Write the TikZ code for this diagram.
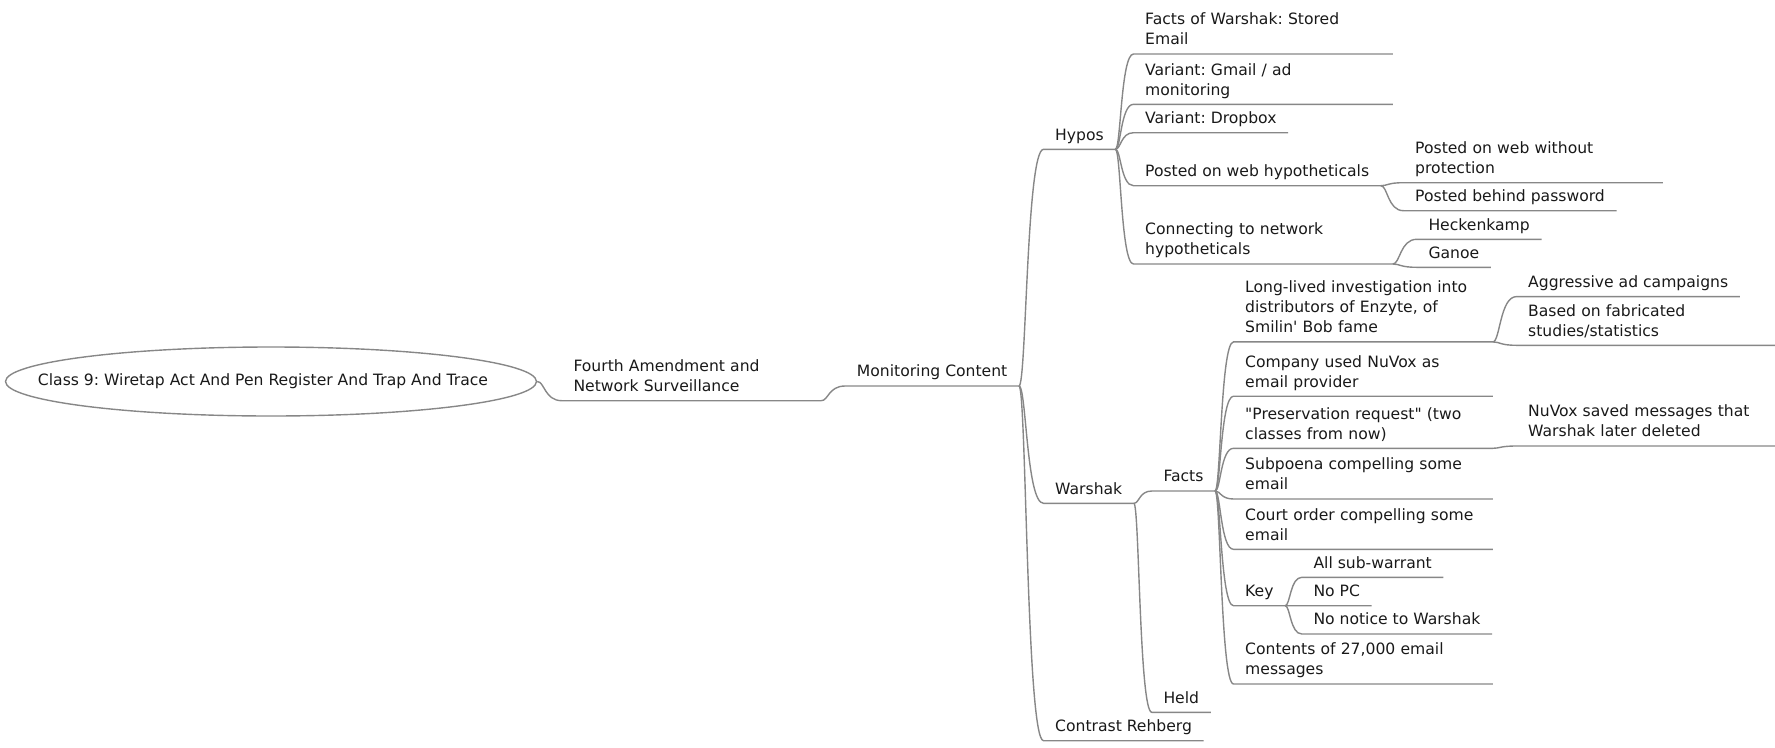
\documentclass[tikz,border=0pt]{standalone}
\usepackage{fontspec}
\setmainfont{DejaVu Sans}
\usetikzlibrary{calc, shapes.geometric}

\definecolor{linegray}{RGB}{135,135,135}
\definecolor{inkgray}{RGB}{25,25,25}

\tikzset{
  topic/.style = {anchor=south west, align=left, inner xsep=11.5pt, inner ysep=3pt,
                  text=inkgray, font=\fontsize{15.6}{20}\selectfont\frenchspacing, execute at end node=\strut},
  wrapped/.style = {topic, text width=236pt},
  link/.style = {linegray, line width=1.4pt},
  branch/.style = {to path={.. controls ($(\tikztostart)!.3!(\tikztostart -| \tikztotarget)$)
                   and ($(\tikztostart |- \tikztotarget)!.3!(\tikztotarget)$) .. (\tikztotarget)}}
}

\begin{document}
\begin{tikzpicture}[x=1pt, y=-1pt]
\useasboundingbox (0, 0) rectangle (1775, 747);

\node (root) at (271, 381.5) [draw=linegray, line width=1.4pt, ellipse, minimum width=531pt, minimum height=69pt, inner sep=0pt, text=inkgray, font=\fontsize{15.6}{20}\selectfont\frenchspacing] {\makebox[0pt]{\kern-16pt Class 9: Wiretap Act And Pen Register And Trap And Trace}};

\node (fourth) at (561.8, 400.7) [wrapped] {Fourth Amendment and\\Network Surveillance};
\node (monitor) at (845.2, 386) [topic] {Monitoring Content};

\node (hypos) at (1043.5, 149.3) [topic] {Hypos};
\node (warshak) at (1043.5, 503.3) [topic] {Warshak};
\node (rehberg) at (1043.5, 740.7) [topic] {Contrast Rehberg};

\node (factswar) at (1133.5, 54) [wrapped] {Facts of Warshak: Stored\\Email};
\node (gmail) at (1133.5, 104.3) [wrapped] {Variant: Gmail / ad\\monitoring};
\node (dropbox) at (1133.5, 132.7) [topic] {Variant: Dropbox};
\node (postweb) at (1133.5, 185.7) [topic] {Posted on web hypotheticals};
\node (noprot) at (1403.5, 182.7) [wrapped] {Posted on web without\\protection};
\node (password) at (1403.5, 210.7) [topic] {Posted behind password};
\node (connect) at (1133.5, 264) [wrapped] {Connecting to network\\hypotheticals};
\node (heck) at (1416.8, 239.3) [topic] {Heckenkamp};
\node (ganoe) at (1416.8, 267.3) [topic] {Ganoe};

\node (facts) at (1151.8, 491) [topic] {Facts};
\node (longlived) at (1233.5, 341.9) [wrapped] {Long-lived investigation into\\distributors of Enzyte, of\\Smilin\textquotesingle\ Bob fame};
\node (aggressive) at (1516.5, 296.6) [topic] {Aggressive ad campaigns};
\node (fabricated) at (1516.5, 345.3) [wrapped] {Based on fabricated\\studies/statistics};
\node (nuvox) at (1233.5, 396.2) [wrapped] {Company used NuVox as\\email provider};
\node (preserve) at (1233.5, 448.3) [wrapped] {\textquotedbl Preservation request\textquotedbl\ (two\\classes from now)};
\node (saved) at (1516.5, 446) [wrapped] {NuVox saved messages that\\Warshak later deleted};
\node (subpoena) at (1233.5, 499) [wrapped] {Subpoena compelling some\\email};
\node (court) at (1233.5, 549.3) [wrapped] {Court order compelling some\\email};
\node (key) at (1233.5, 605.7) [topic] {Key};
\node (allsub) at (1301.8, 577.3) [topic] {All sub-warrant};
\node (nopc) at (1301.8, 605.7) [topic] {No PC};
\node (nonotice) at (1301.8, 634) [topic] {No notice to Warshak};
\node (contents) at (1233.5, 684) [wrapped] {Contents of 27,000 email\\messages};
\node (held) at (1151.8, 712.3) [topic] {Held};

\draw[link] (root.east) to[branch] (fourth.south west) -- (fourth.south east);
\draw[link] (fourth.south east) to[branch] (monitor.south west) -- (monitor.south east);

\draw[link] (monitor.south east) to[branch] (hypos.south west) -- (hypos.south east);
\draw[link] (monitor.south east) to[branch] (warshak.south west) -- (warshak.south east);
\draw[link] (monitor.south east) to[branch] (rehberg.south west) -- (rehberg.south east);

\draw[link] (hypos.south east) to[branch] (factswar.south west) -- (factswar.south east);
\draw[link] (hypos.south east) to[branch] (gmail.south west) -- (gmail.south east);
\draw[link] (hypos.south east) to[branch] (dropbox.south west) -- (dropbox.south east);
\draw[link] (hypos.south east) to[branch] (postweb.south west) -- (postweb.south east);
\draw[link] (hypos.south east) to[branch] (connect.south west) -- (connect.south east);
\draw[link] (postweb.south east) to[branch] (noprot.south west) -- (noprot.south east);
\draw[link] (postweb.south east) to[branch] (password.south west) -- (password.south east);
\draw[link] (connect.south east) to[branch] (heck.south west) -- (heck.south east);
\draw[link] (connect.south east) to[branch] (ganoe.south west) -- (ganoe.south east);

\draw[link] (warshak.south east) to[branch] (facts.south west) -- (facts.south east);
\draw[link] (warshak.south east) to[branch] (held.south west) -- (held.south east);
\draw[link] (facts.south east) to[branch] (longlived.south west) -- (longlived.south east);
\draw[link] (facts.south east) to[branch] (nuvox.south west) -- (nuvox.south east);
\draw[link] (facts.south east) to[branch] (preserve.south west) -- (preserve.south east);
\draw[link] (facts.south east) to[branch] (subpoena.south west) -- (subpoena.south east);
\draw[link] (facts.south east) to[branch] (court.south west) -- (court.south east);
\draw[link] (facts.south east) to[branch] (key.south west) -- (key.south east);
\draw[link] (facts.south east) to[branch] (contents.south west) -- (contents.south east);
\draw[link] (longlived.south east) to[branch] (aggressive.south west) -- (aggressive.south east);
\draw[link] (longlived.south east) to[branch] (fabricated.south west) -- (fabricated.south east);
\draw[link] (preserve.south east) to[branch] (saved.south west) -- (saved.south east);
\draw[link] (key.south east) to[branch] (allsub.south west) -- (allsub.south east);
\draw[link] (key.south east) to[branch] (nopc.south west) -- (nopc.south east);
\draw[link] (key.south east) to[branch] (nonotice.south west) -- (nonotice.south east);

\end{tikzpicture}
\end{document}
